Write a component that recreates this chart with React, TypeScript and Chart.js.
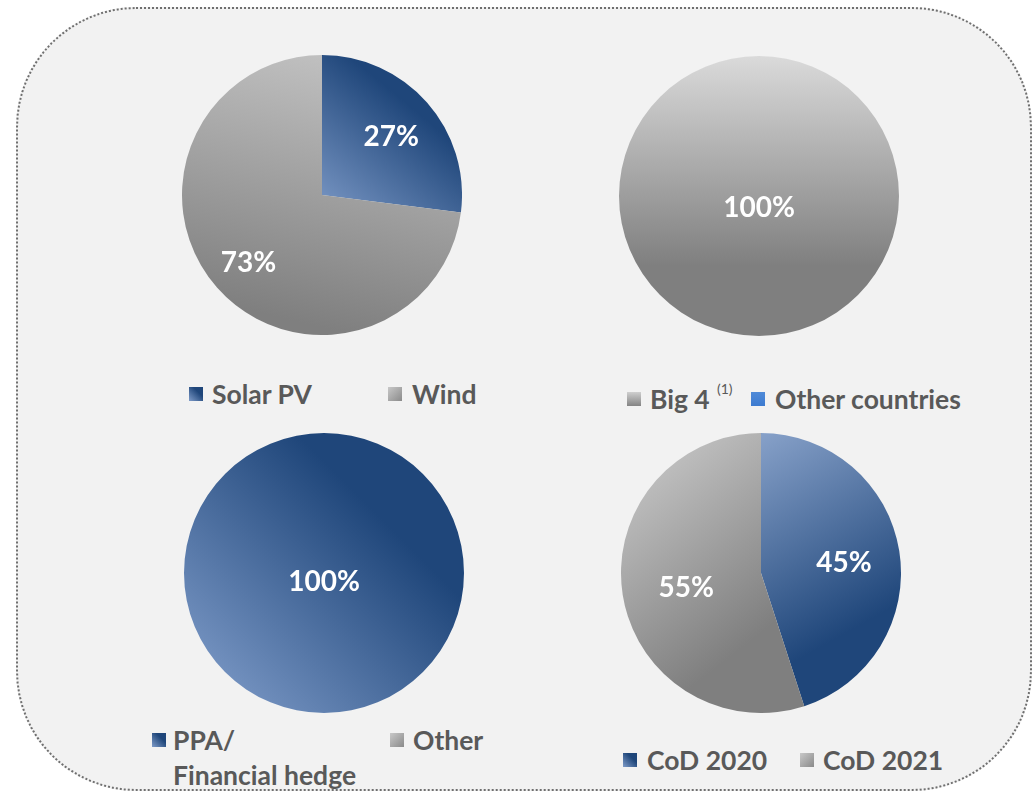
import React, { useEffect, useRef } from "react";
import { Chart, registerables } from "chart.js";

Chart.register(...registerables);

// ---------- data ----------
const techLabels = ["Solar PV", "Wind"];
const techValues = [27, 73];

const countryLabels = ["Big 4", "Other countries"];
const countryValues = [100, 0];

const offtakeLabels = ["PPA/ Financial hedge", "Other"];
const offtakeValues = [100, 0];

const codLabels = ["CoD 2020", "CoD 2021"];
const codValues = [45, 55];

// ---------- styles ----------
const BLUE_DARK = "#1f467a";
const BLUE_LIGHT = "#7f9cc9";
const GRAY_LIGHT = "#c2c2c2";
const GRAY_DARK = "#7f7f7f";
const TEXT = "#595959";
const FONT = "Lato, 'Open Sans', sans-serif";

type Grad = { from: [number, number]; to: [number, number]; stops: [number, string][] };

const techGrads: Grad[] = [
  { from: [0.95, -0.95], to: [0.0, 0.2], stops: [[0, BLUE_DARK], [0.3, BLUE_DARK], [1, BLUE_LIGHT]] },
  { from: [0.25, -1], to: [-0.2, 0.9], stops: [[0, GRAY_LIGHT], [1, GRAY_DARK]] },
];
const countryGrads: Grad[] = [
  { from: [0, -1], to: [0, 0.5], stops: [[0, "#dadada"], [1, GRAY_DARK]] },
  { from: [0, -1], to: [0, 1], stops: [[0, "#4a87d8"], [1, "#3a76c8"]] },
];
const offtakeGrads: Grad[] = [
  { from: [0.4, -0.4], to: [-0.9, 0.9], stops: [[0, BLUE_DARK], [1, BLUE_LIGHT]] },
  { from: [0, -1], to: [0, 1], stops: [[0, GRAY_LIGHT], [1, GRAY_DARK]] },
];
const codGrads: Grad[] = [
  { from: [0.0, -1.0], to: [0.75, 0.35], stops: [[0, "#87a1c9"], [1, BLUE_DARK]] },
  { from: [-0.8, -0.8], to: [0.1, 0.35], stops: [[0, GRAY_LIGHT], [1, GRAY_DARK]] },
];

type PieProps = {
  labels: string[];
  values: number[];
  grads: Grad[];
  labelFrac: number[];
  fullOffset: number;
  cx: number;
  cy: number;
  r: number;
};

function PieChart({ labels, values, grads, labelFrac, fullOffset, cx, cy, r }: PieProps) {
  const ref = useRef<HTMLCanvasElement>(null);
  useEffect(() => {
    const labelPlugin = {
      id: "pctLabels",
      afterDatasetsDraw(chart: any) {
        const ctx = chart.ctx;
        const meta = chart.getDatasetMeta(0);
        const data = chart.data.datasets[0].data as number[];
        const total = data.reduce((a, b) => a + b, 0);
        ctx.save();
        ctx.fillStyle = "#ffffff";
        ctx.font = `bold 28px ${FONT}`;
        ctx.textAlign = "center";
        ctx.textBaseline = "middle";
        meta.data.forEach((arc: any, i: number) => {
          const v = data[i];
          if (!v) return;
          const { x, y, startAngle, endAngle, outerRadius } = arc.getProps(
            ["x", "y", "startAngle", "endAngle", "outerRadius"],
            true
          );
          const pct = Math.round((v / total) * 100);
          let px = x;
          let py = y;
          if (pct >= 100) {
            py = y + fullOffset;
          } else {
            const mid = (startAngle + endAngle) / 2;
            const f = labelFrac[i];
            px = x + Math.cos(mid) * outerRadius * f;
            py = y + Math.sin(mid) * outerRadius * f + 3;
          }
          ctx.fillText(pct + "%", px, py);
        });
        ctx.restore();
      },
    };

    const chart = new Chart(ref.current as HTMLCanvasElement, {
      type: "pie",
      data: {
        labels,
        datasets: [
          {
            data: values,
            borderWidth: 0,
            backgroundColor: (c: any) => {
              const ch = c.chart;
              const area = ch.chartArea;
              const g = grads[c.dataIndex];
              if (!area || !g) return "#999";
              const ox = (area.left + area.right) / 2;
              const oy = (area.top + area.bottom) / 2;
              const rr = Math.min(area.right - area.left, area.bottom - area.top) / 2;
              const grad = ch.ctx.createLinearGradient(
                ox + g.from[0] * rr,
                oy + g.from[1] * rr,
                ox + g.to[0] * rr,
                oy + g.to[1] * rr
              );
              g.stops.forEach(([s, col]) => grad.addColorStop(s, col));
              return grad;
            },
          },
        ],
      },
      options: {
        responsive: false,
        maintainAspectRatio: false,
        animation: false,
        layout: { padding: 0 },
        plugins: { legend: { display: false }, tooltip: { enabled: false } },
      },
      plugins: [labelPlugin],
    } as any);
    return () => chart.destroy();
  }, []);
  return (
    <canvas
      ref={ref}
      width={2 * r}
      height={2 * r}
      style={{ position: "absolute", left: cx - r, top: cy - r, width: 2 * r, height: 2 * r }}
    />
  );
}

type LegendItemProps = {
  mx: number;
  tx: number;
  cy: number;
  marker: string;
  lines: string[];
  sup?: { text: string; x: number; y: number };
};

function LegendItem({ mx, tx, cy, marker, lines, sup }: LegendItemProps) {
  return (
    <>
      <div
        style={{
          position: "absolute",
          left: mx,
          top: cy - 7,
          width: 14,
          height: 14,
          background: marker,
        }}
      />
      {lines.map((ln, i) => (
        <div
          key={i}
          style={{
            position: "absolute",
            left: tx,
            top: cy - 18 + i * 35,
            height: 36,
            lineHeight: "36px",
            fontFamily: FONT,
            fontWeight: 700,
            fontSize: 26.5,
            color: TEXT,
            whiteSpace: "nowrap",
          }}
        >
          {ln}
        </div>
      ))}
      {sup && (
        <div
          style={{
            position: "absolute",
            left: sup.x,
            top: sup.y - 9,
            height: 18,
            lineHeight: "18px",
            fontFamily: FONT,
            fontSize: 14,
            color: TEXT,
            whiteSpace: "nowrap",
          }}
        >
          {sup.text}
        </div>
      )}
    </>
  );
}

const blueMarker = `linear-gradient(225deg, ${BLUE_DARK} 0%, ${BLUE_DARK} 35%, ${BLUE_LIGHT} 100%)`;
const grayMarker = `linear-gradient(135deg, #c8c8c8 0%, #8a8a8a 100%)`;
const grayMarkerV = `linear-gradient(180deg, #cfcfcf 0%, #848484 100%)`;
const brightBlueMarker = `linear-gradient(180deg, #4f8ad8 0%, #3d7bd0 100%)`;

export default function App() {
  return (
    <div
      style={{
        position: "absolute",
        left: 0,
        top: 0,
        width: 1032,
        height: 793,
        background: "#ffffff",
        overflow: "hidden",
      }}
    >
      <div
        style={{
          position: "absolute",
          left: 16,
          top: 7,
          width: 1016,
          height: 784,
          boxSizing: "border-box",
          border: "2px dotted #6f6f6f",
          borderRadius: 120,
          background: "#f2f2f2",
        }}
      />
      <PieChart labels={techLabels} values={techValues} grads={techGrads} labelFrac={[0.66, 0.7]} fullOffset={0} cx={322} cy={195} r={140} />
      <PieChart labels={countryLabels} values={countryValues} grads={countryGrads} labelFrac={[0.65, 0.65]} fullOffset={12} cx={759} cy={196} r={140} />
      <PieChart labels={offtakeLabels} values={offtakeValues} grads={offtakeGrads} labelFrac={[0.65, 0.65]} fullOffset={9} cx={324} cy={573} r={140} />
      <PieChart labels={codLabels} values={codValues} grads={codGrads} labelFrac={[0.6, 0.54]} fullOffset={0} cx={761} cy={573} r={140} />

      <LegendItem mx={189} tx={212} cy={394} marker={blueMarker} lines={[techLabels[0]]} />
      <LegendItem mx={388} tx={412} cy={394} marker={grayMarker} lines={[techLabels[1]]} />

      <LegendItem mx={627} tx={650} cy={399} marker={grayMarkerV} lines={[countryLabels[0]]} sup={{ text: "(1)", x: 717, y: 389 }} />
      <LegendItem mx={751} tx={775} cy={399} marker={brightBlueMarker} lines={[countryLabels[1]]} />

      <LegendItem mx={152} tx={173} cy={740} marker={blueMarker} lines={["PPA/", "Financial hedge"]} />
      <LegendItem mx={390} tx={413} cy={740} marker={grayMarker} lines={[offtakeLabels[1]]} />

      <LegendItem mx={623} tx={647} cy={760} marker={blueMarker} lines={[codLabels[0]]} />
      <LegendItem mx={800} tx={823} cy={760} marker={grayMarker} lines={[codLabels[1]]} />
    </div>
  );
}
